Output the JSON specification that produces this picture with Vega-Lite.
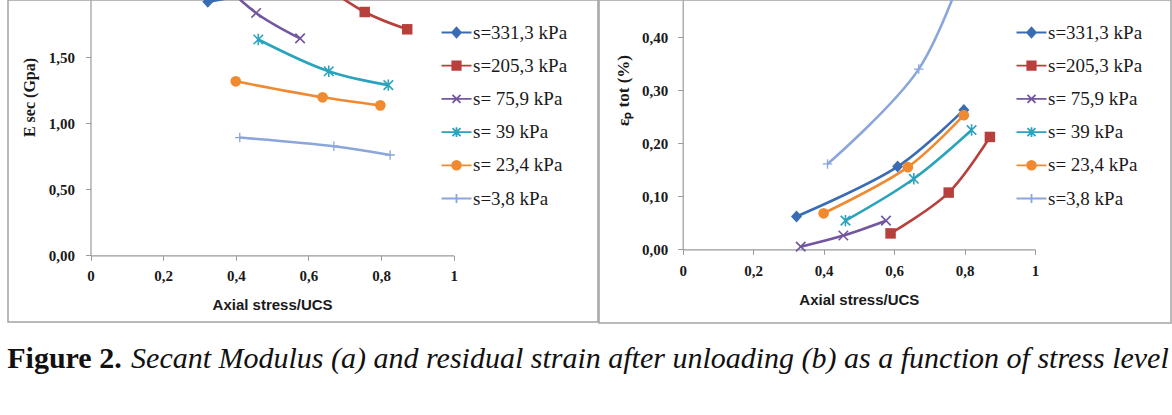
{
  "$schema": "https://vega.github.io/schema/vega-lite/v6.json",
  "padding": {"left": 7, "top": -1, "right": 0, "bottom": 0},
  "background": "white",
  "datasets": {
    "modulus": [
      {"series": "s=331,3 kPa", "stress_ratio": 0.323, "E_sec": 1.92},
      {"series": "s=331,3 kPa", "stress_ratio": 0.61, "E_sec": 2.03},
      {"series": "s=331,3 kPa", "stress_ratio": 0.798, "E_sec": 2.0},
      {"series": "s=205,3 kPa", "stress_ratio": 0.59, "E_sec": 2.15},
      {"series": "s=205,3 kPa", "stress_ratio": 0.755, "E_sec": 1.843},
      {"series": "s=205,3 kPa", "stress_ratio": 0.872, "E_sec": 1.712},
      {"series": "s= 75,9 kPa", "stress_ratio": 0.335, "E_sec": 2.14},
      {"series": "s= 75,9 kPa", "stress_ratio": 0.456, "E_sec": 1.836},
      {"series": "s= 75,9 kPa", "stress_ratio": 0.577, "E_sec": 1.643},
      {"series": "s= 39 kPa", "stress_ratio": 0.462, "E_sec": 1.635},
      {"series": "s= 39 kPa", "stress_ratio": 0.656, "E_sec": 1.394},
      {"series": "s= 39 kPa", "stress_ratio": 0.82, "E_sec": 1.289},
      {"series": "s= 23,4 kPa", "stress_ratio": 0.4, "E_sec": 1.318},
      {"series": "s= 23,4 kPa", "stress_ratio": 0.639, "E_sec": 1.197},
      {"series": "s= 23,4 kPa", "stress_ratio": 0.798, "E_sec": 1.136},
      {"series": "s=3,8 kPa", "stress_ratio": 0.411, "E_sec": 0.892},
      {"series": "s=3,8 kPa", "stress_ratio": 0.67, "E_sec": 0.826},
      {"series": "s=3,8 kPa", "stress_ratio": 0.825, "E_sec": 0.76}
    ],
    "strain": [
      {"series": "s=331,3 kPa", "stress_ratio": 0.323, "eps_p": 0.062},
      {"series": "s=331,3 kPa", "stress_ratio": 0.61, "eps_p": 0.156},
      {"series": "s=331,3 kPa", "stress_ratio": 0.798, "eps_p": 0.263},
      {"series": "s=205,3 kPa", "stress_ratio": 0.59, "eps_p": 0.03},
      {"series": "s=205,3 kPa", "stress_ratio": 0.755, "eps_p": 0.107},
      {"series": "s=205,3 kPa", "stress_ratio": 0.872, "eps_p": 0.212},
      {"series": "s= 75,9 kPa", "stress_ratio": 0.335, "eps_p": 0.005},
      {"series": "s= 75,9 kPa", "stress_ratio": 0.456, "eps_p": 0.026},
      {"series": "s= 75,9 kPa", "stress_ratio": 0.577, "eps_p": 0.054},
      {"series": "s= 39 kPa", "stress_ratio": 0.462, "eps_p": 0.054},
      {"series": "s= 39 kPa", "stress_ratio": 0.656, "eps_p": 0.133},
      {"series": "s= 39 kPa", "stress_ratio": 0.82, "eps_p": 0.225},
      {"series": "s= 23,4 kPa", "stress_ratio": 0.4, "eps_p": 0.068},
      {"series": "s= 23,4 kPa", "stress_ratio": 0.639, "eps_p": 0.155},
      {"series": "s= 23,4 kPa", "stress_ratio": 0.798, "eps_p": 0.253},
      {"series": "s=3,8 kPa", "stress_ratio": 0.411, "eps_p": 0.161},
      {"series": "s=3,8 kPa", "stress_ratio": 0.67, "eps_p": 0.34},
      {"series": "s=3,8 kPa", "stress_ratio": 0.825, "eps_p": 0.58}
    ]
  },
  "config": {
    "view": {"stroke": "#a3a3a3", "strokeWidth": 1.5},
    "axis": {
      "grid": false,
      "domainColor": "#9a9a9a",
      "domainWidth": 1.2,
      "tickColor": "#9a9a9a",
      "tickSize": 5,
      "labelFlush": false,
      "labelOverlap": false
    }
  },
  "title": {
    "text": "Figure 2.",
    "orient": "bottom",
    "anchor": "start",
    "font": "Liberation Serif",
    "fontSize": 30,
    "fontWeight": "bold",
    "color": "#111111",
    "offset": -30
  },
  "vconcat": [
    {
      "title": {
        "text": "Secant Modulus (a) and residual strain after unloading (b) as a function of stress level",
        "orient": "bottom",
        "anchor": "end",
        "font": "Liberation Serif",
        "fontSize": 30,
        "fontStyle": "italic",
        "fontWeight": "normal",
        "color": "#111111",
        "offset": 20,
        "dx": -3
      },
      "spacing": 1,
      "bounds": "flush",
      "resolve": {
        "scale": {"x": "independent", "y": "independent", "color": "independent"},
        "legend": {"color": "independent"}
      },
      "hconcat": [
        {
          "width": 590,
          "height": 322,
          "data": {"name": "modulus"},
          "encoding": {
            "x": {
              "field": "stress_ratio", "type": "quantitative",
              "scale": {"domain": [0, 1], "range": [82.5, 445.7], "nice": false, "zero": false},
              "axis": {
                "values": [0, 0.2, 0.4, 0.6, 0.8, 1],
                "labelExpr": "replace(format(datum.value, '~g'), '.', ',')",
                "offset": -66.7,
                "labelPadding": 8,
                "labelFont": "Liberation Serif",
                "labelFontWeight": "bold",
                "labelFontSize": 15,
                "labelColor": "#1a1a1a",
                "title": "Axial stress/UCS",
                "titleFont": "Liberation Sans",
                "titleFontWeight": "bold",
                "titleFontSize": 15,
                "titleColor": "#1a1a1a",
                "titlePadding": 14
              }
            },
            "y": {
              "field": "E_sec", "type": "quantitative",
              "scale": {"domain": [0, 1.934], "range": [255.3, 0], "nice": false, "zero": false},
              "axis": {
                "values": [0, 0.5, 1, 1.5],
                "labelExpr": "replace(format(datum.value, '.2f'), '.', ',')",
                "offset": -82.5,
                "labelPadding": 11,
                "labelFont": "Liberation Serif",
                "labelFontWeight": "bold",
                "labelFontSize": 15,
                "labelColor": "#1a1a1a",
                "title": "E sec (Gpa)",
                "titleFont": "Liberation Serif",
                "titleFontWeight": "bold",
                "titleFontSize": 16,
                "titleColor": "#1a1a1a",
                "titlePadding": 11,
                "titleY": 97
              }
            },
            "color": {
              "field": "series", "type": "nominal",
              "scale": {
                "domain": ["s=331,3 kPa", "s=205,3 kPa", "s= 75,9 kPa", "s= 39 kPa", "s= 23,4 kPa", "s=3,8 kPa"],
                "range": ["#3a6cb4", "#b8403c", "#7256a0", "#2aa3bc", "#f08a30", "#8aa6da"]
              },
              "legend": {
                "orient": "none", "legendX": 439, "legendY": 23, "title": null, "padding": 0,
                "labelFont": "Liberation Serif", "labelFontSize": 19, "labelColor": "#1a1a1a",
                "labelOffset": 7, "rowPadding": 13.2, "symbolSize": 64, "symbolStrokeWidth": 1.8, "symbolOpacity": 1,
                "encode": {
                  "symbols": {
                    "update": {
                      "shape": {"signal": "['M-3.75,0H3.75M0,-1.2L1.1,0L0,1.2L-1.1,0Z','M-3.75,0H3.75M-1.05,-1.05H1.05V1.05H-1.05Z','M-3.75,0H3.75M-1,-1L1,1M-1,1L1,-1','M-3.75,0H3.75M-1,-1L1,1M-1,1L1,-1M0,-1.2V1.2','M-3.75,0H3.75M1.1,0A1.1,1.1,0,1,1,-1.1,0A1.1,1.1,0,1,1,1.1,0Z','M-3.75,0H3.75M0,-1.1V1.1'][datum.index]"},
                      "fill": {"signal": "['#3a6cb4','#b8403c','#7256a0','#2aa3bc','#f08a30','#8aa6da'][datum.index]"},
                      "stroke": {"signal": "['#3a6cb4','#b8403c','#7256a0','#2aa3bc','#f08a30','#8aa6da'][datum.index]"},
                      "strokeWidth": {"value": 1.8},
                      "opacity": {"value": 1}
                    }
                  }
                }
              }
            }
          },
          "layer": [
            {"mark": {"type": "line", "interpolate": "catmull-rom", "strokeWidth": 2.6, "clip": true}},
            {
              "transform": [{"filter": {"field": "series", "equal": "s=331,3 kPa"}}],
              "mark": {"type": "point", "shape": "M0,-1.2L1.1,0L0,1.2L-1.1,0Z", "filled": true, "opacity": 1, "size": 100, "clip": true}
            },
            {
              "transform": [{"filter": {"field": "series", "equal": "s=205,3 kPa"}}],
              "mark": {"type": "point", "shape": "square", "filled": true, "opacity": 1, "size": 110, "clip": true}
            },
            {
              "transform": [{"filter": {"field": "series", "equal": "s= 75,9 kPa"}}],
              "mark": {"type": "point", "shape": "M-1,-1L1,1M-1,1L1,-1", "filled": false, "opacity": 1, "size": 90, "strokeWidth": 1.6, "clip": true}
            },
            {
              "transform": [{"filter": {"field": "series", "equal": "s= 39 kPa"}}],
              "mark": {"type": "point", "shape": "M-1,-1L1,1M-1,1L1,-1M0,-1.2V1.2", "filled": false, "opacity": 1, "size": 90, "strokeWidth": 1.6, "clip": true}
            },
            {
              "transform": [{"filter": {"field": "series", "equal": "s= 23,4 kPa"}}],
              "mark": {"type": "point", "shape": "circle", "filled": true, "opacity": 1, "size": 115, "clip": true}
            },
            {
              "transform": [{"filter": {"field": "series", "equal": "s=3,8 kPa"}}],
              "mark": {"type": "point", "shape": "M-1,0H1M0,-1V1", "filled": false, "opacity": 1, "size": 90, "strokeWidth": 1.3, "clip": true}
            }
          ]
        },
        {
          "width": 572,
          "height": 323,
          "data": {"name": "strain"},
          "encoding": {
            "x": {
              "field": "stress_ratio", "type": "quantitative",
              "scale": {"domain": [0, 1], "range": [83.7, 436], "nice": false, "zero": false},
              "axis": {
                "values": [0, 0.2, 0.4, 0.6, 0.8, 1],
                "labelExpr": "replace(format(datum.value, '~g'), '.', ',')",
                "offset": -73.7,
                "labelPadding": 9,
                "labelFont": "Liberation Serif",
                "labelFontWeight": "bold",
                "labelFontSize": 15,
                "labelColor": "#1a1a1a",
                "title": "Axial stress/UCS",
                "titleFont": "Liberation Sans",
                "titleFontWeight": "bold",
                "titleFontSize": 15,
                "titleColor": "#1a1a1a",
                "titlePadding": 14
              }
            },
            "y": {
              "field": "eps_p", "type": "quantitative",
              "scale": {"domain": [0, 0.4704], "range": [249.3, 0], "nice": false, "zero": false},
              "axis": {
                "values": [0, 0.1, 0.2, 0.3, 0.4],
                "labelExpr": "replace(format(datum.value, '.2f'), '.', ',')",
                "offset": -83.7,
                "labelPadding": 10,
                "labelFont": "Liberation Serif",
                "labelFontWeight": "bold",
                "labelFontSize": 15,
                "labelColor": "#1a1a1a",
                "title": "εₚ tot (%)",
                "titleFont": "Liberation Serif",
                "titleFontWeight": "bold",
                "titleFontSize": 17,
                "titleColor": "#1a1a1a",
                "titlePadding": 9,
                "titleY": 90
              }
            },
            "color": {
              "field": "series", "type": "nominal",
              "scale": {
                "domain": ["s=331,3 kPa", "s=205,3 kPa", "s= 75,9 kPa", "s= 39 kPa", "s= 23,4 kPa", "s=3,8 kPa"],
                "range": ["#3a6cb4", "#b8403c", "#7256a0", "#2aa3bc", "#f08a30", "#8aa6da"]
              },
              "legend": {
                "orient": "none", "legendX": 423, "legendY": 23, "title": null, "padding": 0,
                "labelFont": "Liberation Serif", "labelFontSize": 19, "labelColor": "#1a1a1a",
                "labelOffset": 7, "rowPadding": 13.2, "symbolSize": 64, "symbolStrokeWidth": 1.8, "symbolOpacity": 1,
                "encode": {
                  "symbols": {
                    "update": {
                      "shape": {"signal": "['M-3.75,0H3.75M0,-1.2L1.1,0L0,1.2L-1.1,0Z','M-3.75,0H3.75M-1.05,-1.05H1.05V1.05H-1.05Z','M-3.75,0H3.75M-1,-1L1,1M-1,1L1,-1','M-3.75,0H3.75M-1,-1L1,1M-1,1L1,-1M0,-1.2V1.2','M-3.75,0H3.75M1.1,0A1.1,1.1,0,1,1,-1.1,0A1.1,1.1,0,1,1,1.1,0Z','M-3.75,0H3.75M0,-1.1V1.1'][datum.index]"},
                      "fill": {"signal": "['#3a6cb4','#b8403c','#7256a0','#2aa3bc','#f08a30','#8aa6da'][datum.index]"},
                      "stroke": {"signal": "['#3a6cb4','#b8403c','#7256a0','#2aa3bc','#f08a30','#8aa6da'][datum.index]"},
                      "strokeWidth": {"value": 1.8},
                      "opacity": {"value": 1}
                    }
                  }
                }
              }
            }
          },
          "layer": [
            {"mark": {"type": "line", "interpolate": "catmull-rom", "strokeWidth": 2.6, "clip": true}},
            {
              "transform": [{"filter": {"field": "series", "equal": "s=331,3 kPa"}}],
              "mark": {"type": "point", "shape": "M0,-1.2L1.1,0L0,1.2L-1.1,0Z", "filled": true, "opacity": 1, "size": 100, "clip": true}
            },
            {
              "transform": [{"filter": {"field": "series", "equal": "s=205,3 kPa"}}],
              "mark": {"type": "point", "shape": "square", "filled": true, "opacity": 1, "size": 110, "clip": true}
            },
            {
              "transform": [{"filter": {"field": "series", "equal": "s= 75,9 kPa"}}],
              "mark": {"type": "point", "shape": "M-1,-1L1,1M-1,1L1,-1", "filled": false, "opacity": 1, "size": 90, "strokeWidth": 1.6, "clip": true}
            },
            {
              "transform": [{"filter": {"field": "series", "equal": "s= 39 kPa"}}],
              "mark": {"type": "point", "shape": "M-1,-1L1,1M-1,1L1,-1M0,-1.2V1.2", "filled": false, "opacity": 1, "size": 90, "strokeWidth": 1.6, "clip": true}
            },
            {
              "transform": [{"filter": {"field": "series", "equal": "s= 23,4 kPa"}}],
              "mark": {"type": "point", "shape": "circle", "filled": true, "opacity": 1, "size": 115, "clip": true}
            },
            {
              "transform": [{"filter": {"field": "series", "equal": "s=3,8 kPa"}}],
              "mark": {"type": "point", "shape": "M-1,0H1M0,-1V1", "filled": false, "opacity": 1, "size": 90, "strokeWidth": 1.3, "clip": true}
            }
          ]
        }
      ]
    }
  ]
}
